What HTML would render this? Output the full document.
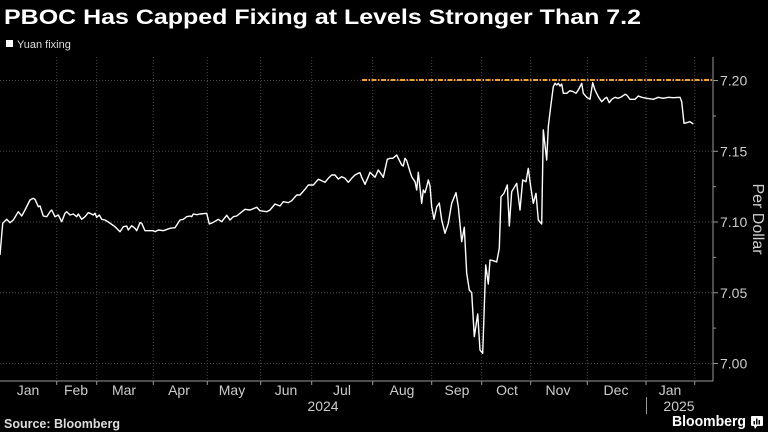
<!DOCTYPE html>
<html><head><meta charset="utf-8"><style>
html,body{margin:0;padding:0;background:#000;}
svg{display:block;}
text{font-family:"Liberation Sans",sans-serif;}
</style></head><body>
<svg width="768" height="432" viewBox="0 0 768 432" xmlns="http://www.w3.org/2000/svg">
<rect width="768" height="432" fill="#000"/>
<text x="4" y="24" font-size="21" font-weight="bold" fill="#fff" textLength="637" lengthAdjust="spacingAndGlyphs">PBOC Has Capped Fixing at Levels Stronger Than 7.2</text>
<rect x="6" y="40" width="7" height="7" fill="#fff"/>
<text x="17" y="48" font-size="11" fill="#ddd">Yuan fixing</text>
<g stroke="#4a4a4a" stroke-width="1" stroke-dasharray="1,2" fill="none">
<line x1="56.7" y1="57" x2="56.7" y2="381"/>
<line x1="96.7" y1="57" x2="96.7" y2="381"/>
<line x1="153.3" y1="57" x2="153.3" y2="381"/>
<line x1="207.3" y1="57" x2="207.3" y2="381"/>
<line x1="260.7" y1="57" x2="260.7" y2="381"/>
<line x1="311.7" y1="57" x2="311.7" y2="381"/>
<line x1="372.7" y1="57" x2="372.7" y2="381"/>
<line x1="431.7" y1="57" x2="431.7" y2="381"/>
<line x1="481.7" y1="57" x2="481.7" y2="381"/>
<line x1="530.7" y1="57" x2="530.7" y2="381"/>
<line x1="587.3" y1="57" x2="587.3" y2="381"/>
<line x1="646" y1="57" x2="646" y2="381"/>
<line x1="694.7" y1="57" x2="694.7" y2="381"/>
<line x1="0" y1="80.5" x2="713" y2="80.5"/>
<line x1="0" y1="151.3" x2="713" y2="151.3"/>
<line x1="0" y1="222" x2="713" y2="222"/>
<line x1="0" y1="292.8" x2="713" y2="292.8"/>
<line x1="0" y1="363.5" x2="713" y2="363.5"/>
</g>
<g stroke="#999" stroke-width="1">
<line x1="0" y1="381" x2="713.5" y2="381"/>
<line x1="713" y1="57" x2="713" y2="381"/>
<line x1="713" y1="80.5" x2="718" y2="80.5"/>
<line x1="713" y1="116" x2="716" y2="116"/>
<line x1="713" y1="151.3" x2="718" y2="151.3"/>
<line x1="713" y1="186.7" x2="716" y2="186.7"/>
<line x1="713" y1="222" x2="718" y2="222"/>
<line x1="713" y1="257.4" x2="716" y2="257.4"/>
<line x1="713" y1="292.8" x2="718" y2="292.8"/>
<line x1="713" y1="328.1" x2="716" y2="328.1"/>
<line x1="713" y1="363.5" x2="718" y2="363.5"/>
<line x1="56.7" y1="381" x2="56.7" y2="385"/>
<line x1="96.7" y1="381" x2="96.7" y2="385"/>
<line x1="153.3" y1="381" x2="153.3" y2="385"/>
<line x1="207.3" y1="381" x2="207.3" y2="385"/>
<line x1="260.7" y1="381" x2="260.7" y2="385"/>
<line x1="311.7" y1="381" x2="311.7" y2="385"/>
<line x1="372.7" y1="381" x2="372.7" y2="385"/>
<line x1="431.7" y1="381" x2="431.7" y2="385"/>
<line x1="481.7" y1="381" x2="481.7" y2="385"/>
<line x1="530.7" y1="381" x2="530.7" y2="385"/>
<line x1="587.3" y1="381" x2="587.3" y2="385"/>
<line x1="646" y1="381" x2="646" y2="385"/>
<line x1="694.7" y1="381" x2="694.7" y2="385"/>
<line x1="646.5" y1="397" x2="646.5" y2="414"/>
</g>
<line x1="362" y1="80" x2="713" y2="80" stroke="#f0a030" stroke-width="2" stroke-dasharray="5,1.5,1.5,1.5"/>
<polyline fill="none" stroke="#fff" stroke-width="1.4" stroke-linejoin="round" points="0,255 2.7,223.3 6.7,219.3 10,222.7 13.3,220 18.3,211.7 21.7,216 25,210 30,200 33.3,198.3 35,199.3 38.3,206.7 40,206 43.3,216 46.7,216.7 50,211.7 51.7,210 55,216.7 58.3,215 61.7,221.7 65,213.3 66.7,211.7 70,215 73.3,214 76.7,216.7 78.3,214 81.7,219.3 85,216.7 88.3,212.7 90,213.3 93.3,215 95,213.3 96.7,217.3 99.3,215 101.7,219.3 105,220 108.3,222 115,226.7 120,231.7 123.3,226.7 126.7,226 128.3,230 131.7,225.7 135,228.3 136.7,230.7 140,222.7 141.7,223.3 145,230.7 153.3,230.7 155,231.7 158.3,230 163.3,230.7 170,228.3 175,227.7 180,220 183.3,219.3 186.7,216.7 190,216 191.7,216.7 193.3,214 196.7,214.7 200,214 206.7,213.3 209.3,224 213.3,222.3 218.3,219.3 221.7,221.7 226.7,215.3 230,220 233.3,216.7 236.7,216 240,213.3 245,209.3 250,210 256.7,207.3 260,210.7 266.7,211.7 270,210 275,204 280,206 283.3,201.7 288.3,202.7 291.7,200.7 296.7,195 300,195 305,189.3 308.3,185 313.3,185 318.3,179.3 321.7,180.7 325,182.3 328.3,178.3 331.7,175 335,175 338.3,179 341.7,176.7 345,178.3 348.3,182.3 351.7,178.3 355,175 358.3,173.3 360,172.7 361.7,177.3 365,184.3 368.3,176.7 370,172.3 372.7,175 375,177.3 378.3,170 380.7,173.3 383.3,177.3 387.3,159.3 390,158.3 392.7,158.3 394,157.3 396.7,155 398.3,158.3 401.7,165 403.3,166 405,158.3 406.7,160.7 410,171.7 411.7,176.7 415,181.7 416.7,190 418.3,172.3 421.7,203.3 423.3,190 425,192.7 426.7,186.7 428.3,180 430,186 431.7,206.7 434,219.3 436.7,207 439.3,203 441.7,220 445,233.3 448.3,223.3 451.7,203.3 456,192.7 458.3,206.7 461.7,241.7 464.3,227.3 466.7,273.3 469.3,290 471.7,292.7 474.3,336.7 477.7,314 480,350 482.7,353.3 484.3,306.7 485.7,265 488.3,284 490,260 493.3,260.7 496.7,262 499.3,248.3 501,196.7 504,193.3 507.3,185 509.3,226 511.7,191.7 516.7,183.3 520,210 522.7,180 526,181.7 528.3,168.3 530.7,186.7 533.3,203.3 536,193.3 538.3,220 541.7,224 543.3,130 546.7,160 548.3,126.7 550.7,106.7 553.3,86.7 555,83.3 556.7,85 558.3,83.3 560,86 561.7,84 563.3,93.3 566.7,93.3 570,90.7 573.3,91.7 576,93.3 578.3,90 581.7,83.3 583.3,93.3 586.7,97.3 590,99.3 592.7,82.7 595,90 598.3,96.7 601.7,101.7 605,98.3 606.7,97.3 609.3,102.7 611.7,99.3 615,97.3 618.3,98.3 621.7,96.7 625,94.3 626.7,95 630,99.3 635,99.3 638.3,96 641.7,97.3 646.7,98.3 653.3,99.3 658.3,97.3 663.3,98.3 668.3,97.3 673.3,97.7 680,97.3 681.7,101.7 684,123.3 686.7,122.7 690,121.7 693.3,124"/>
<g font-size="14" fill="#ccc">
<text x="720" y="85.5">7.20</text>
<text x="720" y="156.3">7.15</text>
<text x="720" y="227">7.10</text>
<text x="720" y="297.8">7.05</text>
<text x="720" y="368.5">7.00</text>
</g>
<text transform="translate(753,219) rotate(90)" font-size="16" fill="#ccc" text-anchor="middle">Per Dollar</text>
<g font-size="14" fill="#ccc" text-anchor="middle">
<text x="28" y="395">Jan</text>
<text x="76" y="395">Feb</text>
<text x="124" y="395">Mar</text>
<text x="179" y="395">Apr</text>
<text x="232" y="395">May</text>
<text x="286" y="395">Jun</text>
<text x="342" y="395">Jul</text>
<text x="402" y="395">Aug</text>
<text x="457" y="395">Sep</text>
<text x="507" y="395">Oct</text>
<text x="558" y="395">Nov</text>
<text x="616" y="395">Dec</text>
<text x="670" y="395">Jan</text>
<text x="323" y="411">2024</text>
<text x="679" y="411">2025</text>
</g>
<text x="4" y="428" font-size="12.5" font-weight="bold" fill="#ddd">Source: Bloomberg</text>
<text x="672" y="426" font-size="15" font-weight="bold" fill="#fff" textLength="74" lengthAdjust="spacingAndGlyphs">Bloomberg</text>
<rect x="751" y="416" width="12" height="10" rx="1" fill="#fff"/>
<polygon points="754,426 757,426 755,429" fill="#fff"/>
<g fill="#000"><rect x="753.5" y="421" width="1.5" height="3.5"/><rect x="756" y="418.5" width="1.5" height="6"/><rect x="758.5" y="420" width="1.5" height="4.5"/></g>
</svg>
</body></html>
